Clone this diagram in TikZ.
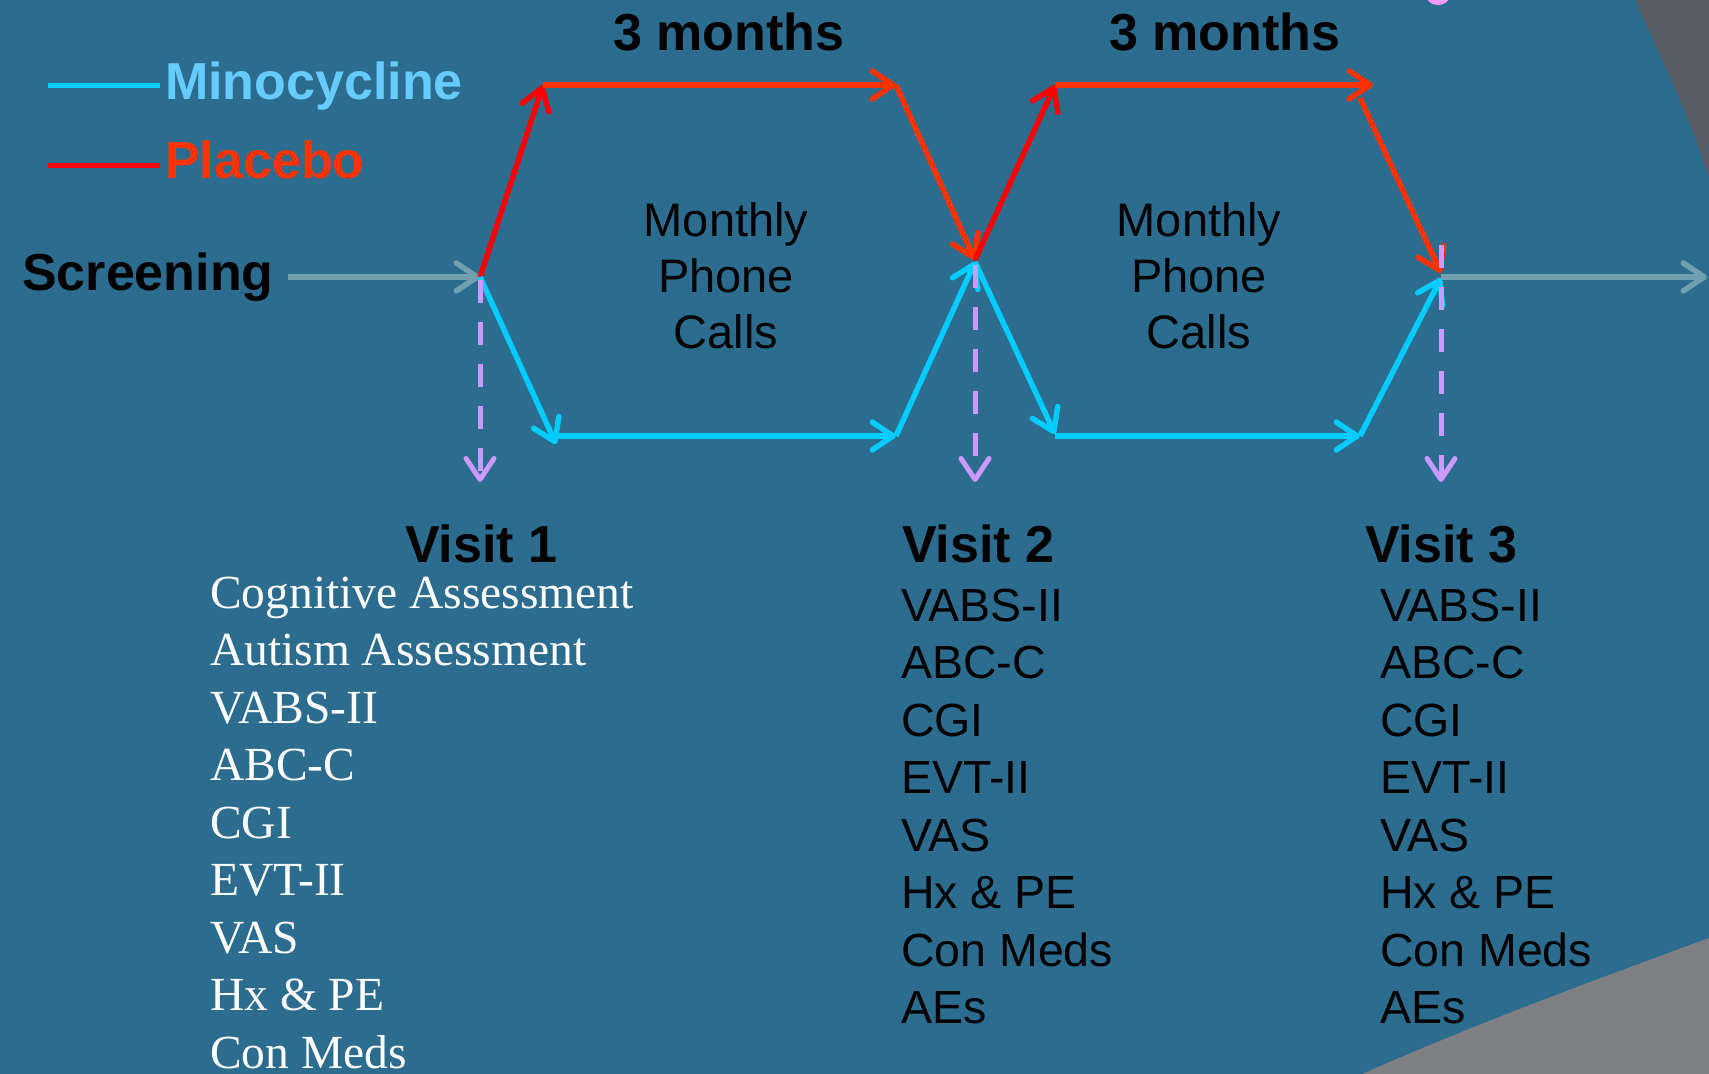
\documentclass[tikz,border=0pt]{standalone}
\usepackage{fontspec}
\setmainfont{Liberation Sans}
\newfontfamily\timesf{Liberation Serif}
\usetikzlibrary{arrows.meta}
\definecolor{bg}{RGB}{43,108,143}
\definecolor{mino}{RGB}{0,204,255}
\definecolor{minotext}{RGB}{102,204,255}
\definecolor{redA}{RGB}{255,0,0}
\definecolor{redB}{RGB}{255,51,0}
\definecolor{scrgrey}{RGB}{111,160,174}
\definecolor{purp}{RGB}{204,153,255}
\definecolor{darkcorner}{RGB}{88,94,102}
\definecolor{lightcorner}{RGB}{126,128,131}
\definecolor{pinkdot}{RGB}{255,153,255}
\tikzset{
  tip/.tip={Straight Barb[length=21pt,width=28pt,line cap=round,line join=round]},
  flow/.style={line width=5.5pt,-tip},
  dashline/.style={line width=5pt,purp,dash pattern=on 23pt off 19pt,-tip},
  boldlbl/.style={inner sep=0pt,anchor=base west,font=\fontsize{52}{60}\selectfont\bfseries},
  phone/.style={inner sep=0pt,anchor=base,font=\fontsize{47}{56}\selectfont},
  arialitem/.style={inner sep=0pt,anchor=base west,font=\fontsize{46.5}{56}\selectfont,text=black},
  timesitem/.style={inner sep=0pt,anchor=base west,font=\timesf\fontsize{47.5}{57}\selectfont,text=white},
}
\begin{document}
\begin{tikzpicture}[x=1pt,y=-1pt]
\path[use as bounding box] (0,0) rectangle (1709,1074);
\fill[bg] (0,0) rectangle (1709,1074);
\begin{scope}
\clip (0,0) rectangle (1709,1074);
\fill[darkcorner] (1635,0) .. controls (1662,60) and (1690,118) .. (1709,178) -- (1709,0) -- cycle;
\fill[lightcorner] (1362,1074) .. controls (1480,1022) and (1600,978) .. (1709,938) -- (1709,1074) -- cycle;
\fill[pinkdot] (1438,-3) ellipse [x radius=11pt, y radius=8pt];
\end{scope}

% legend
\coordinate (lm1) at (48,85);
\coordinate (lm2) at (160,85);
\coordinate (lp1) at (48,165);
\coordinate (lp2) at (160,165);
\draw[mino,line width=5pt] (lm1) -- (lm2);
\draw[redA,line width=5pt] (lp1) -- (lp2);
\node[boldlbl,text=minotext] (minolbl) at (165,99) {Minocycline};
\node[boldlbl,text=redB] (placlbl) at (165,178) {Placebo};
\node[boldlbl,text=black] (screen) at (22,290) {Screening};

% key points
\coordinate (s0) at (288,277);
\coordinate (j1) at (480,277);
\coordinate (a1) at (543,85);
\coordinate (b1) at (896,85);
\coordinate (j2) at (975,260);
\coordinate (j2c) at (975,262);
\coordinate (c1) at (1055,85);
\coordinate (d1) at (1373,85);
\coordinate (d1s) at (1360,98);
\coordinate (j3) at (1441,273);
\coordinate (j3g) at (1441,277);
\coordinate (j3c) at (1441,278);
\coordinate (end) at (1707,277);
\coordinate (e1) at (556,444);
\coordinate (e1h) at (558,436);
\coordinate (f1) at (896,436);
\coordinate (g1) at (1055,434);
\coordinate (g1h) at (1055,436);
\coordinate (h1) at (1360,436);
\coordinate (p1a) at (480,280);
\coordinate (p1b) at (480,482);
\coordinate (p2a) at (975,265);
\coordinate (p2b) at (975,482);
\coordinate (p3a) at (1441,245);
\coordinate (p3b) at (1441,482);

% screening and continuation
\draw[flow,scrgrey] (s0) -- (j1);
\draw[flow,scrgrey] (j3g) -- (end);

% placebo path
\draw[flow,redA] (j1) -- (a1);
\draw[flow,redB] (a1) -- (b1);
\draw[flow,redB] (b1) -- (j2);
\draw[flow,redA] (j2) -- (c1);
\draw[flow,redB] (c1) -- (d1);
\draw[flow,redB] (d1s) -- (j3);

% minocycline path
\draw[flow,mino] (j1) -- (e1);
\draw[flow,mino] (e1h) -- (f1);
\draw[flow,mino] (f1) -- (j2c);
\draw[flow,mino] (j2c) -- (g1);
\draw[flow,mino] (g1h) -- (h1);
\draw[flow,mino] (h1) -- (j3c);

% visit arrows
\draw[dashline] (p1a) -- (p1b);
\draw[dashline] (p2a) -- (p2b);
\draw[dashline] (p3a) -- (p3b);

% labels
\node[boldlbl,text=black] (m1) at (613,50) {3 months};
\node[boldlbl,text=black] (m2) at (1109,50) {3 months};

\node[phone] (mp1) at (726,236) {Monthly};
\node[phone] (pp1) at (726,292) {Phone};
\node[phone] (cp1) at (726,348) {Calls};
\node[phone] (mp2) at (1199,236) {Monthly};
\node[phone] (pp2) at (1199,292) {Phone};
\node[phone] (cp2) at (1199,348) {Calls};

\node[boldlbl,text=black] (v1) at (405,562) {Visit 1};
\node[boldlbl,text=black] (v2) at (902,562) {Visit 2};
\node[boldlbl,text=black] (v3) at (1365,562) {Visit 3};

\foreach \t [count=\i from 0] in {Cognitive Assessment,Autism Assessment,VABS-II,ABC-C,CGI,EVT-II,VAS,Hx \& PE,Con Meds}
  \node[timesitem] (vone\i) at (210,608+57.5*\i) {\t};

\foreach \t [count=\i from 0] in {VABS-II,ABC-C,CGI,EVT-II,VAS,Hx \& PE,Con Meds,AEs}{
  \node[arialitem] (vtwo\i) at (901,621+57.5*\i) {\t};
  \node[arialitem] (vthree\i) at (1380,621+57.5*\i) {\t};
}
\end{tikzpicture}
\end{document}
